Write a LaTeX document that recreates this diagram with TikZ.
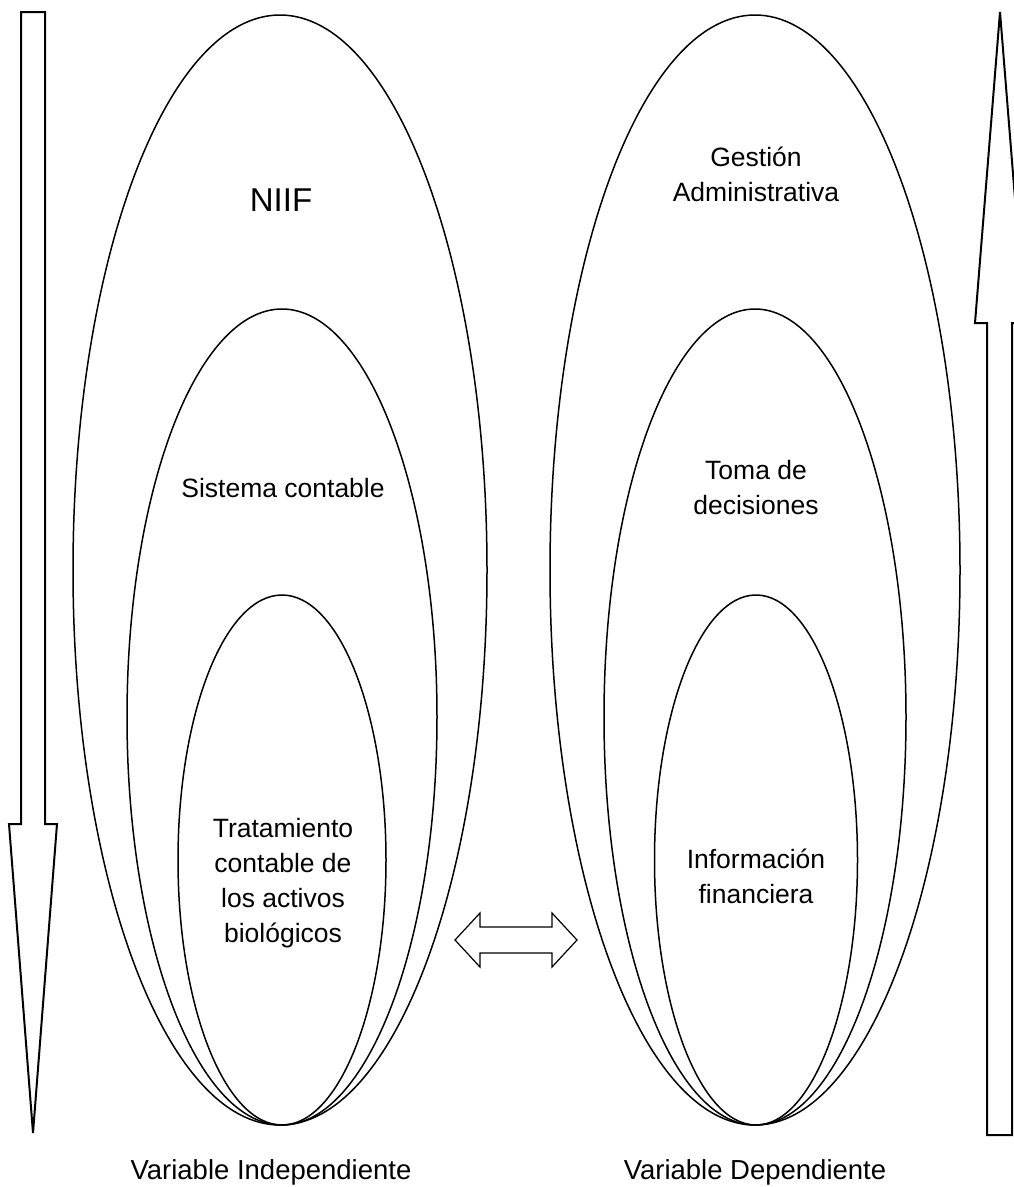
\documentclass[tikz,border=0pt]{standalone}
\usepackage{fontspec}
\setmainfont{Liberation Sans}
\usetikzlibrary{shapes.geometric}
\begin{document}
\begin{tikzpicture}[x=1pt,y=-1pt,
  ell/.style={draw,ellipse,line width=1.5pt,inner sep=0pt,fill=none},
  lbl/.style={align=center,font=\fontsize{26.5}{35}\selectfont,inner sep=0pt},
  bigarrow/.style={draw,line width=2pt,fill=white,line join=miter}]
\useasboundingbox (0,0) rectangle (1014,1187);
% left ellipses
\node[ell,minimum width=414pt,minimum height=1110pt] (lo) at (280,570) {};
\node[ell,minimum width=310pt,minimum height=816pt] (lm) at (282,717) {};
\node[ell,minimum width=208pt,minimum height=530pt] (li) at (282,860) {};
% right ellipses
\node[ell,minimum width=410pt,minimum height=1110pt] (ro) at (755,570) {};
\node[ell,minimum width=302pt,minimum height=816pt] (rm) at (755,717) {};
\node[ell,minimum width=203pt,minimum height=530pt] (ri) at (756,860) {};
% texts
\node[lbl,font=\fontsize{33}{38}\selectfont] (tniif) at (281,200) {NIIF};
\node[lbl] (tsis) at (283,488) {Sistema contable};
\node[lbl] (ttrat) at (283,883) {Tratamiento\\contable de\\los activos\\biológicos};
\node[lbl] (tges) at (756,174) {Gestión\\Administrativa};
\node[lbl] (ttoma) at (756,488) {Toma de\\decisiones};
\node[lbl] (tinfo) at (756,876) {Información\\financiera};
\node[lbl,font=\fontsize{27.5}{35}\selectfont] (vind) at (271,1172) {Variable Independiente};
\node[lbl,font=\fontsize{27.5}{35}\selectfont] (vdep) at (755,1172) {Variable Dependiente};
% left down arrow
\draw[bigarrow] (21,12) -- (45,12) -- (45,824) -- (57,824) -- (33,1133) -- (9,824) -- (21,824) -- cycle;
% right up arrow
\draw[bigarrow] (987,1135) -- (987,323) -- (975,323) -- (1000,12) -- (1025,323) -- (1012,323) -- (1012,1135) -- cycle;
% double arrow between the groups
\coordinate (dl) at (455,940);
\coordinate (dr) at (577,940);
\draw[line width=1.2pt,fill=white,line join=miter] (dl) -- (480,913) -- (480,927) -- (552,927) -- (552,913) -- (dr) -- (552,967) -- (552,953) -- (480,953) -- (480,967) -- cycle;
\end{tikzpicture}
\end{document}
